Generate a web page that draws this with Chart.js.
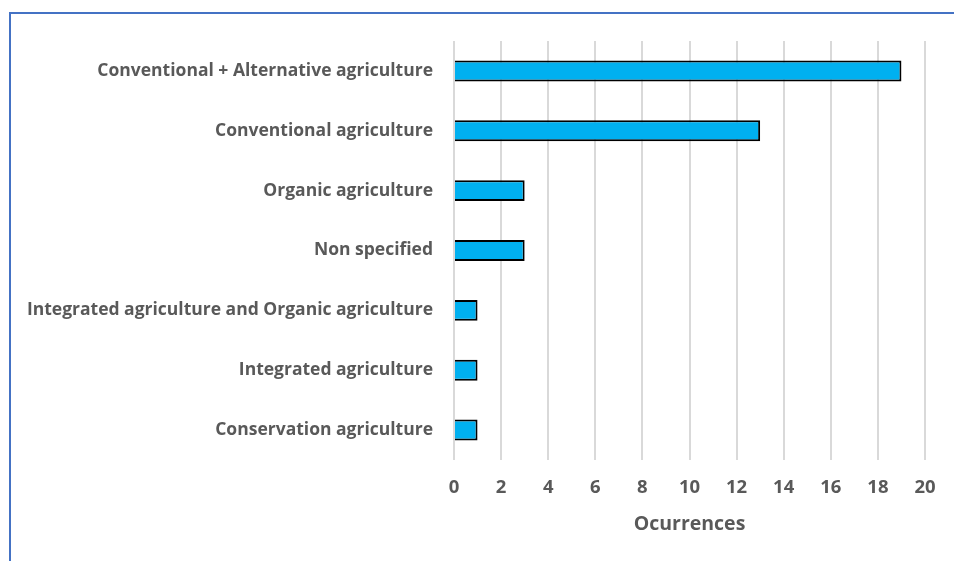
<!DOCTYPE html>
<html>
<head>
<meta charset="utf-8">
<script src="https://cdn.jsdelivr.net/npm/chart.js@4/dist/chart.umd.min.js"></script>
<style>
  html, body { margin: 0; padding: 0; background: #ffffff; }
  #wrap { position: relative; width: 954px; height: 561px; overflow: hidden; }
  #frame { position: absolute; left: 9px; top: 12px; width: 960px; height: 560px;
           border-top: 2px solid #4472C4; border-left: 2px solid #4472C4; box-sizing: border-box; }
  canvas { position: absolute; left: 0; top: 0; }
</style>
</head>
<body>
<div id="wrap">
  <div id="frame"></div>
  <canvas id="c" width="954" height="561"></canvas>
</div>
<script>
const categories = [
  'Conventional + Alternative agriculture',
  'Conventional agriculture',
  'Organic agriculture',
  'Non specified',
  'Integrated agriculture and Organic agriculture',
  'Integrated agriculture',
  'Conservation agriculture'
];
const occurrences = [19, 13, 3, 3, 1, 1, 1];
const xTicks = [0, 2, 4, 6, 8, 10, 12, 14, 16, 18, 20];

const textColor = '#595959';
const family = '"Open Sans", Lato, sans-serif';

new Chart(document.getElementById('c'), {
  type: 'bar',
  data: {
    labels: categories,
    datasets: [{
      data: occurrences,
      backgroundColor: '#00B0F0',
      borderColor: '#000000',
      borderWidth: 2,
      barPercentage: 0.35,
      categoryPercentage: 1.0
    }]
  },
  options: {
    indexAxis: 'y',
    responsive: false,
    animation: false,
    layout: { padding: { top: 41, right: 29, left: 0, bottom: 0 } },
    plugins: { legend: { display: false }, tooltip: { enabled: false } },
    scales: {
      x: {
        min: 0, max: 20,
        afterBuildTicks: (s) => { s.ticks = xTicks.map(v => ({ value: v })); },
        afterFit: (s) => { s.height = 101; },
        grid: { color: '#D9D9D9', lineWidth: 2, drawTicks: false },
        border: { display: false },
        ticks: { color: textColor, padding: 17, font: { family, size: 18.5, weight: 'bold' } },
        title: {
          display: true, text: 'Ocurrences', color: textColor,
          font: { family, size: 19.5, weight: 'bold' },
          padding: { top: 10, bottom: 25 }
        }
      },
      y: {
        grid: { display: false, drawTicks: false },
        border: { display: false },
        afterFit: (s) => { s.width = 454; },
        ticks: { color: textColor, padding: 21, font: { family, size: 17.5, weight: 'bold' } }
      }
    }
  }
});
</script>
</body>
</html>
